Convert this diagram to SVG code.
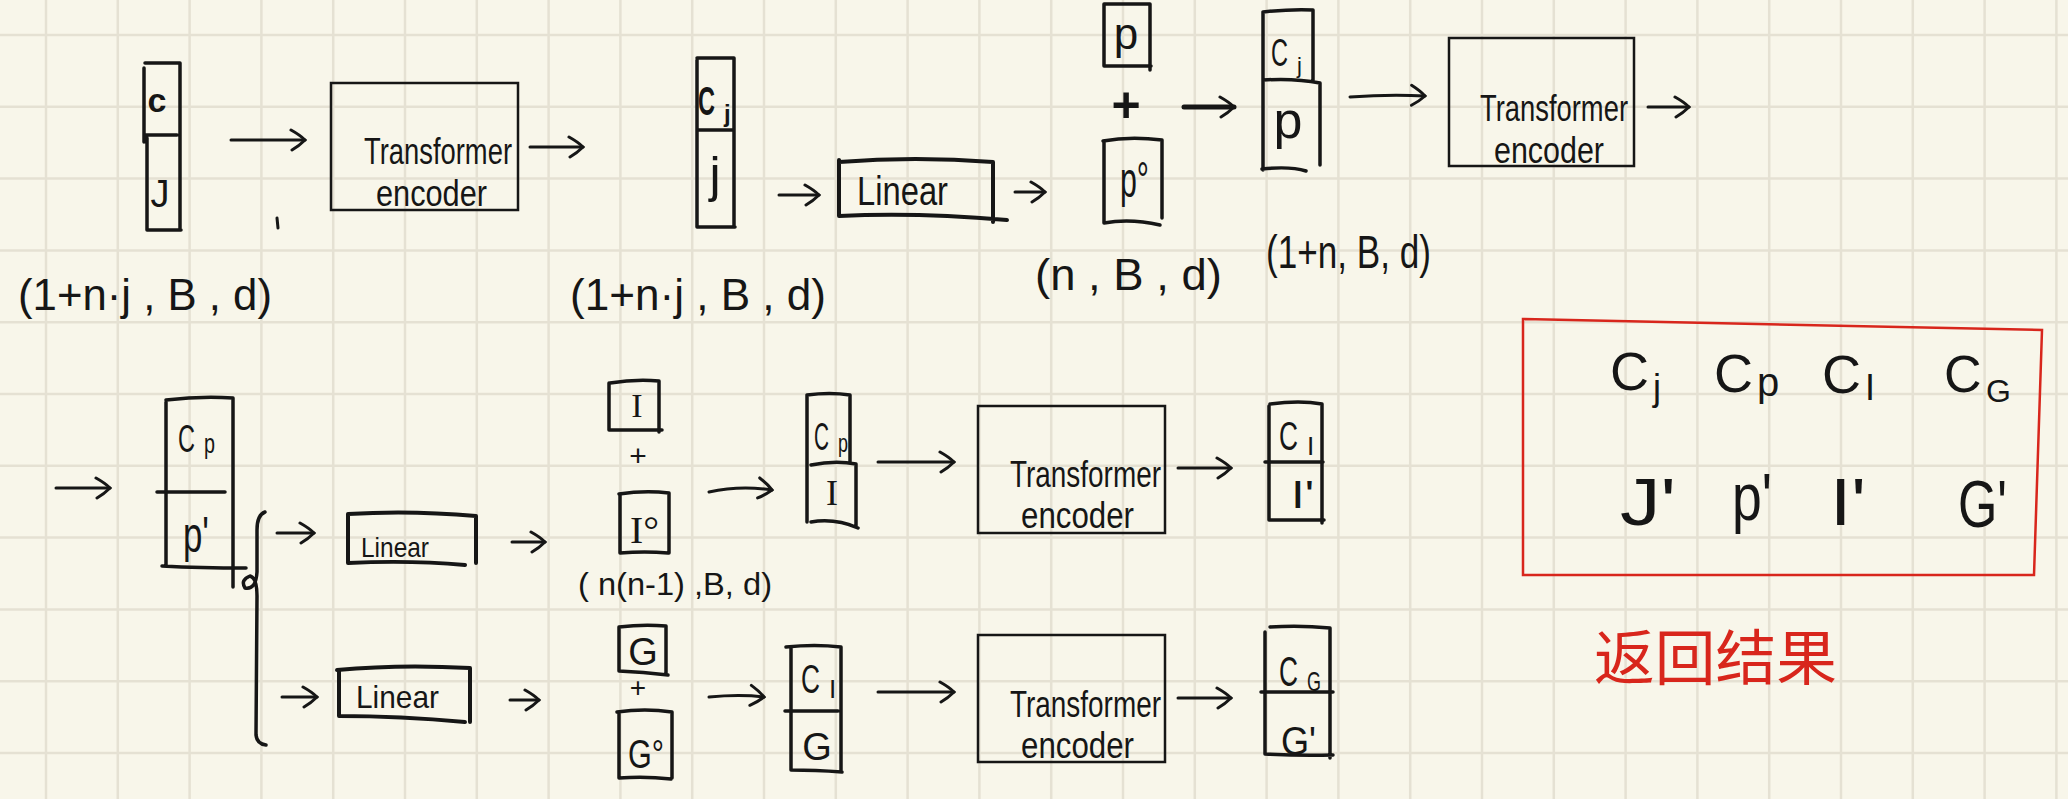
<svg xmlns="http://www.w3.org/2000/svg" width="2068" height="799" viewBox="0 0 2068 799">
<style>
.ink{fill:none;stroke:#161616;stroke-width:3.5;stroke-linecap:round;stroke-linejoin:round}
.thin{fill:none;stroke:#161616;stroke-width:2.5}
.t{font-family:"Liberation Sans",Arial,sans-serif;fill:#161616}
.s{font-family:"Liberation Serif","Times New Roman",serif;fill:#161616}
.conn{fill:none;stroke:#161616;stroke-width:3;stroke-linecap:round;marker-end:url(#ah)}
.red{fill:none;stroke:#d8261c;stroke-width:2.5}
</style>
<defs>
<marker id="ah" viewBox="0 0 20 24" refX="17" refY="12" markerWidth="20" markerHeight="24" markerUnits="userSpaceOnUse" orient="auto">
<path d="M3,2 Q12,7 17,12 Q11,18 4,22" fill="none" stroke="#161616" stroke-width="3" stroke-linecap="round"/>
</marker>
</defs>
<rect x="0" y="0" width="2068" height="799" fill="#f8f6ea"/>
<g id="grid" fill="none" stroke="#e5e1d3" stroke-width="2.5">
<path d="M46,0V799M117.8,0V799M189.6,0V799M261.4,0V799M333.2,0V799M405,0V799M476.8,0V799M548.6,0V799M620.4,0V799M692.2,0V799M764,0V799M835.8,0V799M907.6,0V799M979.4,0V799M1051.2,0V799M1123,0V799M1194.8,0V799M1266.6,0V799M1338.4,0V799M1410.2,0V799M1482,0V799M1553.8,0V799M1625.6,0V799M1697.4,0V799M1769.2,0V799M1841,0V799M1912.8,0V799M1984.6,0V799M2056.4,0V799"/>
<path d="M0,35H2068M0,106.8H2068M0,178.6H2068M0,250.4H2068M0,322.2H2068M0,394H2068M0,465.8H2068M0,537.6H2068M0,609.4H2068M0,681.2H2068M0,753H2068"/>
</g>

<g id="connectors">
<path class="conn" d="M231,140 H305"/>
<path class="conn" d="M530,147 H583"/>
<path class="conn" d="M779,195 H819"/>
<path class="conn" d="M1015,192 H1045"/>
<path class="conn" style="stroke-width:5" d="M1184,107 H1234"/>
<path class="conn" d="M1350,97 Q1390,94 1425,96"/>
<path class="conn" d="M1648,107 H1689"/>
<path class="conn" d="M56,488 H110"/>
<path class="conn" d="M277,533 H314"/>
<path class="conn" d="M512,542 H545"/>
<path class="conn" d="M709,492 Q740,485 772,490"/>
<path class="conn" d="M878,462 H954"/>
<path class="conn" d="M1178,468 H1231"/>
<path class="conn" d="M282,697 H317"/>
<path class="conn" d="M510,700 H539"/>
<path class="conn" d="M709,697 Q740,694 764,697"/>
<path class="conn" d="M878,692 H954"/>
<path class="conn" d="M1178,698 H1231"/>
<path class="ink" d="M265,512 Q257,515 257,530 L257,572 Q256,590 245,588 Q240,580 250,576 Q257,578 257,596 L256,735 Q257,744 266,745"/>
<path class="ink" style="stroke-width:3" d="M277,218 L278,228"/>
</g>

<g id="n1">
<path class="ink" d="M145,63H180 M180,63V230 M147,230H181 M144,68V142 M147,138V230 M144,135H177"/>
<text class="t" x="157" y="112" font-size="34" font-weight="bold" text-anchor="middle">c</text>
<text class="t" x="160" y="207" font-size="38" text-anchor="middle">J</text>
</g>

<g id="te1">
<rect class="thin" x="331" y="83" width="187" height="127"/>
<text class="t" x="364" y="164" font-size="36" textLength="148" lengthAdjust="spacingAndGlyphs">Transformer</text>
<text class="t" x="376" y="206" font-size="36" textLength="111" lengthAdjust="spacingAndGlyphs">encoder</text>
</g>

<g id="lbl1"><text class="t" x="18" y="310" font-size="44" textLength="254" lengthAdjust="spacingAndGlyphs">(1+n·j , B , d)</text></g>

<g id="n2">
<path class="ink" d="M697,58H734 M734,58V227 M698,227H735 M697,60V227 M697,130H733"/>
<text class="t" x="698" y="115" font-size="40" font-weight="bold" textLength="17" lengthAdjust="spacingAndGlyphs">C</text>
<text class="t" x="724" y="122" font-size="24" font-weight="bold">j</text>
<text class="t" x="715" y="192" font-size="50" text-anchor="middle">j</text>
</g>

<g id="lbl2"><text class="t" x="570" y="310" font-size="44" textLength="256" lengthAdjust="spacingAndGlyphs">(1+n·j , B , d)</text></g>

<g id="lin1">
<path class="ink" style="stroke-width:4" d="M839,162 Q915,156 993,162 V222 M839,160 V216 Q915,212 1007,220"/>
<text class="t" x="857" y="205" font-size="40" textLength="91" lengthAdjust="spacingAndGlyphs">Linear</text>
</g>

<g id="pbox">
<path class="ink" d="M1104,4 H1150 V70 M1104,4 V66 H1151"/>
<text class="t" x="1126" y="49" font-size="44" text-anchor="middle">p</text>
</g>
<g id="plus1"><text class="t" x="1126" y="122" font-size="50" font-weight="bold" text-anchor="middle">+</text></g>
<g id="p0box">
<path class="ink" d="M1103,141 Q1130,136 1162,140 V218 M1104,141 V223 Q1130,218 1160,225"/>
<text class="t" x="1120" y="197" font-size="50" textLength="29" lengthAdjust="spacingAndGlyphs">p°</text>
</g>
<g id="lbl3"><text class="t" x="1035" y="290" font-size="44" textLength="187" lengthAdjust="spacingAndGlyphs">(n , B , d)</text></g>

<g id="n3">
<path class="ink" d="M1263,12 Q1290,9 1313,10 V82 M1263,12 V170 M1263,80 Q1295,78 1320,83 V165 M1262,169 Q1290,166 1306,171"/>
<text class="t" x="1271" y="66" font-size="38" textLength="17" lengthAdjust="spacingAndGlyphs">C</text>
<text class="t" x="1297" y="73" font-size="22">j</text>
<text class="t" x="1288" y="138" font-size="52" text-anchor="middle">p</text>
</g>
<g id="lbl4"><text class="t" x="1266" y="268" font-size="46" textLength="165" lengthAdjust="spacingAndGlyphs">(1+n, B, d)</text></g>

<g id="te2">
<rect class="thin" x="1449" y="38" width="185" height="128"/>
<text class="t" x="1480" y="121" font-size="36" textLength="148" lengthAdjust="spacingAndGlyphs">Transformer</text>
<text class="t" x="1494" y="163" font-size="36" textLength="110" lengthAdjust="spacingAndGlyphs">encoder</text>
</g>

<g id="n4">
<path class="ink" d="M166,400 Q200,396 233,398 V587 M166,402 V566 M157,492 H225 M162,566 Q200,568 246,568"/>
<text class="t" x="178" y="452" font-size="38" textLength="17" lengthAdjust="spacingAndGlyphs">C</text>
<text class="t" x="204" y="453" font-size="28" textLength="11" lengthAdjust="spacingAndGlyphs">p</text>
<text class="t" x="183" y="552" font-size="50" textLength="26" lengthAdjust="spacingAndGlyphs">p'</text>
</g>

<g id="lin2">
<path class="ink" style="stroke-width:4" d="M348,514 Q410,510 476,516 V563 M348,514 V563 Q410,560 465,565"/>
<text class="t" x="361" y="557" font-size="28" textLength="68" lengthAdjust="spacingAndGlyphs">Linear</text>
</g>

<g id="lin3">
<path class="ink" style="stroke-width:4" d="M337,670 Q400,664 470,668 V722 M339,670 V716 Q400,716 465,722"/>
<text class="t" x="356" y="708" font-size="32" textLength="83" lengthAdjust="spacingAndGlyphs">Linear</text>
</g>

<g id="ibox">
<path class="ink" d="M610,383 Q635,379 659,381 V432 M609,383 V430 H662"/>
<text class="s" x="637" y="417" font-size="34" text-anchor="middle">I</text>
</g>
<g id="plus2"><text class="t" x="638" y="466" font-size="30" text-anchor="middle">+</text></g>
<g id="i0box">
<path class="ink" d="M619,494 Q645,490 669,493 V553 M620,494 V553 Q645,551 668,553"/>
<text class="s" x="630" y="543" font-size="38" textLength="29" lengthAdjust="spacingAndGlyphs">I°</text>
</g>
<g id="lbl5"><text class="t" x="578" y="595" font-size="32" textLength="194" lengthAdjust="spacingAndGlyphs">( n(n-1) ,B, d)</text></g>

<g id="gbox">
<path class="ink" d="M619,627 Q643,624 666,626 V673 M619,627 V671 Q643,672 668,675"/>
<text class="t" x="643" y="665" font-size="38" text-anchor="middle">G</text>
</g>
<g id="plus3"><text class="t" x="638" y="697" font-size="28" text-anchor="middle">+</text></g>
<g id="g0box">
<path class="ink" d="M617,712 Q645,708 672,712 V778 M619,712 V778 Q645,776 671,779"/>
<text class="t" x="628" y="768" font-size="40" textLength="36" lengthAdjust="spacingAndGlyphs">G°</text>
</g>

<g id="n5">
<path class="ink" d="M807,395 Q830,392 850,395 V463 M807,395 V522 M811,465 Q835,460 856,464 V526 M811,522 Q835,518 858,528"/>
<text class="t" x="814" y="450" font-size="38" textLength="15" lengthAdjust="spacingAndGlyphs">C</text>
<text class="t" x="838" y="452" font-size="26" textLength="10" lengthAdjust="spacingAndGlyphs">p</text>
<text class="s" x="832" y="505" font-size="36" text-anchor="middle">I</text>
</g>

<g id="te3">
<rect class="thin" x="978" y="406" width="187" height="127"/>
<text class="t" x="1010" y="487" font-size="36" textLength="151" lengthAdjust="spacingAndGlyphs">Transformer</text>
<text class="t" x="1021" y="528" font-size="36" textLength="113" lengthAdjust="spacingAndGlyphs">encoder</text>
</g>

<g id="n6">
<path class="ink" d="M1270,404 Q1300,400 1322,404 V523 M1269,406 V520 H1324 M1265,462 H1323"/>
<text class="t" x="1279" y="450" font-size="40" textLength="19" lengthAdjust="spacingAndGlyphs">C</text>
<text class="t" x="1307" y="455" font-size="26">I</text>
<text class="t" x="1291" y="508" font-size="38" textLength="23" lengthAdjust="spacingAndGlyphs">I'</text>
</g>

<g id="n7">
<path class="ink" d="M786,647 Q815,644 841,647 V772 M791,647 V770 Q815,770 842,772 M785,711 H838"/>
<text class="t" x="801" y="693" font-size="40" textLength="19" lengthAdjust="spacingAndGlyphs">C</text>
<text class="t" x="829" y="698" font-size="26">I</text>
<text class="t" x="817" y="760" font-size="38" text-anchor="middle">G</text>
</g>

<g id="te4">
<rect class="thin" x="978" y="635" width="187" height="127"/>
<text class="t" x="1010" y="717" font-size="36" textLength="151" lengthAdjust="spacingAndGlyphs">Transformer</text>
<text class="t" x="1021" y="758" font-size="36" textLength="113" lengthAdjust="spacingAndGlyphs">encoder</text>
</g>

<g id="n8">
<path class="ink" d="M1270,627 Q1300,625 1330,628 V758 M1265,632 V754 Q1300,756 1333,755 M1261,692 H1333"/>
<text class="t" x="1279" y="686" font-size="42" textLength="19" lengthAdjust="spacingAndGlyphs">C</text>
<text class="t" x="1307" y="691" font-size="28" textLength="14" lengthAdjust="spacingAndGlyphs">G</text>
<text class="t" x="1281" y="755" font-size="40" textLength="35" lengthAdjust="spacingAndGlyphs">G'</text>
</g>

<g id="result">
<path class="red" d="M1523,319 L2042,330 L2034,575 L1523,575 Z"/>
<text class="t" x="1610" y="390" font-size="54">C</text>
<text class="t" x="1653" y="400" font-size="36">j</text>
<text class="t" x="1714" y="392" font-size="54">C</text>
<text class="t" x="1757" y="396" font-size="40">p</text>
<text class="t" x="1822" y="393" font-size="54">C</text>
<text class="t" x="1865" y="400" font-size="36">I</text>
<text class="t" x="1944" y="392" font-size="52">C</text>
<text class="t" x="1986" y="402" font-size="32">G</text>
<text class="t" x="1620" y="525" font-size="66" textLength="56" lengthAdjust="spacingAndGlyphs">J'</text>
<text class="t" x="1732" y="520" font-size="66" textLength="40" lengthAdjust="spacingAndGlyphs">p'</text>
<text class="t" x="1830" y="525" font-size="66" textLength="36" lengthAdjust="spacingAndGlyphs">I'</text>
<text class="t" x="1958" y="527" font-size="66" textLength="49" lengthAdjust="spacingAndGlyphs">G'</text>
</g>
<g id="note"><text x="1594" y="680" font-size="60" fill="#d8261c" font-family="'Noto Sans CJK SC','Noto Sans',sans-serif" textLength="243" lengthAdjust="spacingAndGlyphs">返回结果</text></g>
</svg>
